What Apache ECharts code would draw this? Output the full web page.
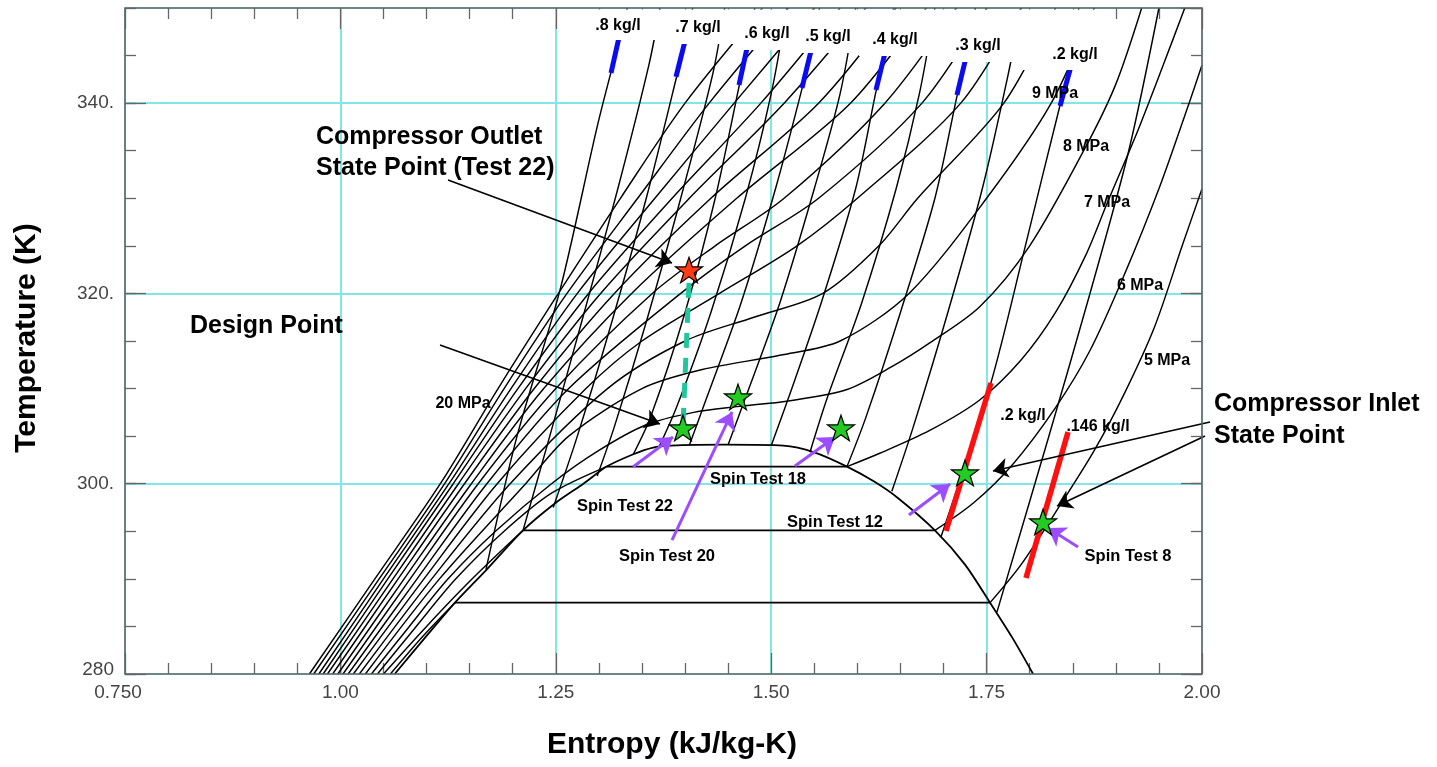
<!DOCTYPE html>
<html>
<head>
<meta charset="utf-8">
<script src="https://cdn.jsdelivr.net/npm/echarts@6.0.0/dist/echarts.min.js"></script>
<style>
  html, body { margin: 0; padding: 0; background: #fff; }
  #chart { width: 1437px; height: 767px; }
</style>
</head>
<body>
<div id="chart"></div>
<script>
// --- saturation dome, [entropy kJ/kg-K, temperature K]
const dome = [[1.063,280],[1.100,284],[1.133,287.5],[1.170,291],[1.212,295.1],[1.250,298],[1.282,300],[1.309,301.8],[1.340,303.1],[1.363,303.8],[1.383,304.0],[1.446,304.1],[1.514,304.0],[1.550,303.3],[1.588,301.8],[1.620,300.2],[1.647,298.5],[1.690,295.1],[1.725,291.5],[1.754,287.5],[1.780,283.8],[1.804,280]];

// --- isobars (MPa); the sub-critical ones are split into liquid / vapour branches
const p5Liq = [[1.058,280],[1.096,284],[1.133,287.5]];
const p5Vap = [[1.754,287.5],[1.790,291.5],[1.835,297.7],[1.875,303.5],[1.910,309.5],[1.945,316.5],[1.977,325],[2.000,331]];
const p6Liq = [[1.050,280],[1.100,285],[1.153,290],[1.212,295.1]];
const p6Vap = [[1.690,295.1],[1.735,298],[1.780,302],[1.830,308],[1.870,314],[1.910,322],[1.950,331],[1.985,340],[2.000,344]];
const p7Liq = [[1.043,280],[1.088,285],[1.134,290],[1.190,295],[1.245,299],[1.309,301.8]];
const p7Vap = [[1.588,301.8],[1.626,303.2],[1.684,305.6],[1.742,308.8],[1.790,313],[1.830,318],[1.865,324],[1.890,329.5],[1.925,337],[1.955,344],[1.980,350]];
const p8  = [[1.036,280],[1.080,285],[1.125,290],[1.180,295],[1.245,300],[1.300,303.5],[1.355,306.2],[1.410,307.5],[1.460,308.1],[1.520,308.7],[1.588,309.9],[1.640,312.3],[1.684,314.8],[1.742,318.6],[1.800,325],[1.865,335.4],[1.900,342],[1.930,350]];
const p9  = [[1.029,280],[1.115,290],[1.215,300],[1.265,305],[1.350,310],[1.420,312],[1.510,313.5],[1.580,315],[1.660,320],[1.750,330],[1.825,340],[1.875,350]];
const p10 = [[1.022,280],[1.106,290],[1.197,300],[1.310,310],[1.400,315],[1.480,317.5],[1.560,320],[1.625,325],[1.670,330],[1.770,340],[1.830,350]];
const p11 = [[1.015,280],[1.097,290],[1.182,300],[1.285,310],[1.350,315],[1.440,320],[1.530,325],[1.600,330],[1.720,340],[1.790,350]];
const p12 = [[1.009,280],[1.089,290],[1.170,300],[1.265,310],[1.395,320],[1.470,325],[1.555,330],[1.675,340],[1.750,350]];
const p13 = [[1.003,280],[1.081,290],[1.160,300],[1.250,310],[1.362,320],[1.435,325],[1.515,330],[1.632,340],[1.715,350]];
const p14 = [[0.997,280],[1.074,290],[1.152,300],[1.236,310],[1.338,320],[1.460,330],[1.592,340],[1.680,350]];
const p15 = [[0.991,280],[1.067,290],[1.144,300],[1.225,310],[1.318,320],[1.430,330],[1.555,340],[1.645,350]];
const p16 = [[0.985,280],[1.061,290],[1.137,300],[1.215,310],[1.302,320],[1.405,330],[1.515,340],[1.610,350]];
const p17 = [[0.980,280],[1.055,290],[1.131,300],[1.206,310],[1.288,320],[1.385,330],[1.488,340],[1.580,350]];
const p18 = [[0.975,280],[1.050,290],[1.126,300],[1.198,310],[1.275,320],[1.365,330],[1.457,340],[1.550,350]];
const p19 = [[0.969,280],[1.045,290],[1.121,300],[1.190,310],[1.263,320],[1.345,330],[1.428,340],[1.520,350]];
const p20 = [[0.964,280],[1.040,290],[1.116,300],[1.183,310],[1.253,320],[1.325,330],[1.400,340],[1.490,350]];

// --- isochores (kg/l)
const d80 = [[1.169,291],[1.205,305],[1.255,320.4],[1.299,337.9],[1.326,347.4],[1.333,350]];
const d75 = [[1.212,295.1],[1.243,305],[1.283,318],[1.322,331],[1.358,344],[1.371,350]];
const d70 = [[1.247,297.5],[1.275,305],[1.315,317],[1.355,330],[1.390,342.7],[1.401,347],[1.409,350]];
const d65 = [[1.298,300.8],[1.318,306],[1.355,317],[1.395,330],[1.432,343],[1.446,350]];
const d60 = [[1.340,303.1],[1.360,307],[1.400,318],[1.435,330],[1.463,341.9],[1.473,346.3],[1.481,350]];
const d55 = [[1.370,303.9],[1.390,308],[1.430,318],[1.470,330],[1.500,341],[1.518,350]];
const d50 = [[1.405,304.05],[1.425,309],[1.465,319],[1.505,331],[1.536,341.6],[1.547,345.9],[1.556,350]];
const d45 = [[1.450,304.1],[1.470,309],[1.510,319],[1.550,331],[1.580,341],[1.598,350]];
const d40 = [[1.500,304.0],[1.520,309],[1.558,319],[1.598,331],[1.622,341.4],[1.633,345.7],[1.642,350]];
const d35 = [[1.545,303.3],[1.565,309],[1.605,319],[1.645,331],[1.672,341],[1.690,350]];
const d30 = [[1.588,301.8],[1.610,307],[1.650,318],[1.690,330],[1.716,340.9],[1.727,345.3],[1.737,350]];
const d25 = [[1.640,299.2],[1.665,306],[1.705,318],[1.745,331],[1.775,343],[1.790,350]];
const d20 = [[1.697,294.4],[1.755,310.6],[1.795,325],[1.835,339.7],[1.848,343.9],[1.857,350]];
const d15 = [[1.762,286.5],[1.821,304.6],[1.870,320],[1.915,335],[1.950,350]];

// highlighted pieces of isochores
const blueMarks = [
  [[1.3141,343.17],[1.3245,347.37]], [[1.3895,342.75],[1.4011,346.95]],
  [[1.4626,341.91],[1.4732,346.32]], [[1.5357,341.59],[1.5473,345.90]],
  [[1.6216,341.38],[1.6332,345.69]], [[1.7156,340.86],[1.7273,345.27]],
  [[1.8352,339.70],[1.8480,343.90]]
];
const redMarks = [
  [[1.7029,295.03],[1.7551,310.59]],
  [[1.7957,290.09],[1.8445,305.44]]
];

// state points
const outletPoint = [[1.4046,322.46]];
const testPoints = [[1.3976,305.86],[1.4615,309.12],[1.5810,305.86],[1.7249,301.13],[1.8155,295.98]];
const compressionPath = [[1.4046,321.10],[1.3976,306.17]];

// annotation arrows [from, to]
const blackArrows = [
  [[1.1249,331.92],[1.3849,323.20]],
  [[1.1156,314.58],[1.3709,306.28]],
  [[2.0093,306.49],[1.7574,301.34]],
  [[2.0035,305.02],[1.8317,297.66]]
];
const purpleArrows = [
  [[1.3396,301.76],[1.3860,304.91]],
  [[1.3849,294.08],[1.4546,307.54]],
  [[1.5276,301.86],[1.5741,304.91]],
  [[1.6599,296.71],[1.7075,299.97]],
  [[1.8561,293.35],[1.8213,295.35]]
];

const FONT = '"Liberation Sans", Arial, Helvetica, sans-serif';
const STAR = 'path://M50,2 L61.8,36.2 L97.6,36.2 L68.6,57.6 L79.6,92 L50,71 L20.4,92 L31.4,57.6 L2.4,36.2 L38.2,36.2 Z';

const chart = echarts.init(document.getElementById('chart'));

const curve = (data, width, smooth) => ({
  type: 'line', data: data, symbol: 'none', smooth: smooth === undefined ? 0.3 : smooth,
  lineStyle: { color: '#000', width: width || 1.45 }, silent: true, z: 3, animation: false
});

const series = [];
[[p5Liq, p5Vap], [p6Liq, p6Vap], [p7Liq, p7Vap]].forEach(([l, v]) => {
  series.push(curve(l), curve([l[l.length - 1], v[0]], 1.7, false), curve(v));
});
[p8, p9, p10, p11, p12, p13, p14, p15, p16, p17, p18, p19, p20].forEach(d => series.push(curve(d)));
[d15, d20, d25, d30, d35, d40, d45, d50, d55, d60, d65, d70, d75, d80].forEach(d => series.push(curve(d)));
series.push(curve(dome, 1.8, 0.25));

const segs = (list, color, width, extra) => Object.assign({
  type: 'lines', coordinateSystem: 'cartesian2d', silent: true, animation: false, z: 5,
  lineStyle: { color: color, width: width, opacity: 1, cap: 'butt' },
  data: list.map(c => ({ coords: c }))
}, extra || {});

series.push(segs(blueMarks, '#0b0bf0', 5));
series.push(segs(redMarks, '#ff1010', 5.5));
series.push(segs([compressionPath], '#20c79c', 5, { lineStyle: { color: '#20c79c', width: 5, opacity: 1, type: [15, 10] } }));
series.push(segs(blackArrows, '#000', 1.6, { clip: false, symbol: ['none', 'arrow'], symbolSize: 15, z: 6 }));
series.push(segs(purpleArrows, '#9b4dff', 3, { symbol: ['none', 'arrow'], symbolSize: 17, z: 6 }));

series.push({
  type: 'scatter', data: testPoints, symbol: STAR, symbolSize: 27, symbolKeepAspect: true,
  itemStyle: { color: '#22cc22', borderColor: '#000', borderWidth: 1.2, opacity: 1 }, z: 8, silent: true, animation: false
});
series.push({
  type: 'scatter', data: outletPoint, symbol: STAR, symbolSize: 27, symbolKeepAspect: true,
  itemStyle: { color: '#ff3c14', borderColor: '#000', borderWidth: 1.2, opacity: 1 }, z: 8, silent: true, animation: false
});

const tickStyle = { color: '#666', width: 1.3 };
const xBase = { type: 'value', min: 0.75, max: 2.0, interval: 0.25, axisLine: { show: false } };
const yBase = { type: 'value', min: 280, max: 350, axisLine: { show: false } };

const text = (x, y, t, size, align) => ({
  type: 'text', x: x, y: y, z: 60, silent: true,
  style: { text: t, fill: '#000', font: 'bold ' + size + 'px ' + FONT, textAlign: align || 'center', align: align || 'center', verticalAlign: 'middle', textVerticalAlign: 'middle' }
});
const box = (x0, x1, y1) => ({ type: 'rect', z: 50, silent: true, shape: { x: x0, y: 9.5, width: x1 - x0, height: y1 - 9.5 }, style: { fill: '#fff' } });

const graphic = [
  box(578, 657, 40), box(657, 737, 44), box(737, 795, 50), box(795, 859, 53),
  box(859, 938, 56), box(938, 1017, 62), box(1017, 1113, 70),
  text(618, 26, '.8 kg/l', 16), text(698, 28, '.7 kg/l', 16), text(767, 34, '.6 kg/l', 16),
  text(828, 37, '.5 kg/l', 16), text(895, 40, '.4 kg/l', 16), text(978, 46, '.3 kg/l', 16),
  text(1075, 55, '.2 kg/l', 16),
  text(1055, 94, '9 MPa', 16), text(1086, 147, '8 MPa', 16), text(1107, 203, '7 MPa', 16),
  text(1140, 286, '6 MPa', 16), text(1167, 361, '5 MPa', 16), text(463, 404, '20 MPa', 16),
  text(1023, 416, '.2 kg/l', 16), text(1098, 427, '.146 kg/l', 16),
  text(625, 506, 'Spin Test 22', 16.5), text(667, 556, 'Spin Test 20', 16.5), text(758, 479, 'Spin Test 18', 16.5),
  text(835, 522, 'Spin Test 12', 16.5), text(1128, 556, 'Spin Test 8', 16.5),
  text(316, 137, 'Compressor Outlet', 25, 'left'), text(316, 168, 'State Point (Test 22)', 25, 'left'),
  text(190, 326, 'Design Point', 25, 'left'),
  text(1214, 404, 'Compressor Inlet', 25, 'left'), text(1214, 436, 'State Point', 25, 'left'),
  text(672, 745, 'Entropy (kJ/kg-K)', 30),
  Object.assign(text(27, 338, 'Temperature (K)', 30), { rotation: Math.PI / 2 }),
  { type: 'rect', z: 100, silent: true, shape: { x: 125, y: 8, width: 1077, height: 666 }, style: { fill: 'none', stroke: '#666', lineWidth: 1.6 } }
];

chart.setOption({
  animation: false,
  backgroundColor: '#fff',
  grid: { left: 125, right: 235, top: 8, bottom: 93, containLabel: false, outerBoundsMode: 'none' },
  xAxis: [
    Object.assign({}, xBase, {
      position: 'bottom',
      axisTick: { inside: true, length: 21, lineStyle: tickStyle },
      minorTick: { show: true, splitNumber: 5, length: 11, lineStyle: tickStyle },
      axisLabel: { color: '#444', fontSize: 19, fontFamily: FONT, margin: 9,
        formatter: v => (Math.abs(v - 0.75) < 1e-9 ? '{first|0.750}' : v.toFixed(2)),
        rich: { first: { fontSize: 19, fontFamily: FONT, color: '#444', padding: [0, 14, 0, 0] } } },
      splitLine: { show: true, lineStyle: { color: '#80e6e6', width: 2 } }
    }),
    Object.assign({}, xBase, {
      position: 'top',
      axisTick: { inside: true, length: 21, lineStyle: tickStyle },
      minorTick: { show: true, splitNumber: 5, length: 11, lineStyle: tickStyle },
      axisLabel: { show: false }, splitLine: { show: false }
    })
  ],
  yAxis: [
    Object.assign({}, yBase, {
      position: 'left', interval: 20,
      axisTick: { inside: true, length: 21, lineStyle: tickStyle },
      axisLabel: { color: '#444', fontSize: 19, fontFamily: FONT, margin: 11, showMaxLabel: false,
        formatter: v => (v === 280 ? '{low|280}' : (v % 20 === 0 ? v + '.' : '')),
        rich: { low: { fontSize: 19, fontFamily: FONT, color: '#444', padding: [0, 0, 8, 0] } } },
      splitLine: { show: true, lineStyle: { color: '#80e6e6', width: 2 } }
    }),
    Object.assign({}, yBase, {
      position: 'right', interval: 20,
      axisTick: { inside: true, length: 21, lineStyle: tickStyle },
      axisLabel: { show: false }, splitLine: { show: false }
    }),
    Object.assign({}, yBase, {
      position: 'left', interval: 5,
      axisTick: { inside: true, length: 11, lineStyle: tickStyle },
      axisLabel: { show: false }, splitLine: { show: false }
    }),
    Object.assign({}, yBase, {
      position: 'right', interval: 5,
      axisTick: { inside: true, length: 11, lineStyle: tickStyle },
      axisLabel: { show: false }, splitLine: { show: false }
    })
  ],
  series: series,
  graphic: graphic
});
</script>
</body>
</html>
